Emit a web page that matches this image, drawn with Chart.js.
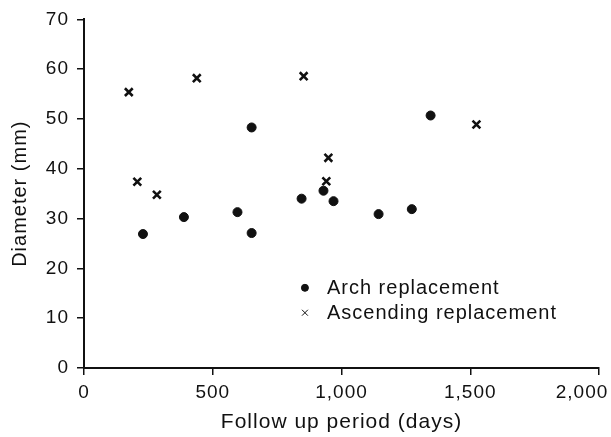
<!DOCTYPE html>
<html>
<head>
<meta charset="utf-8">
<script src="https://cdn.jsdelivr.net/npm/chart.js@4/dist/chart.umd.min.js"></script>
<style>
html,body{margin:0;padding:0;background:#fff;overflow:hidden;}
#wrap{width:611px;height:437px;position:relative;}
</style>
</head>
<body>
<div id="wrap"><canvas id="c" width="611" height="437"></canvas></div>
<script>
const seriesNames = ['Arch replacement', 'Ascending replacement'];
const archDays = [229, 388, 596, 651, 651, 845, 930, 969, 1144, 1273, 1346];
const archDiameter = [26.9, 30.3, 31.3, 27.1, 48.3, 34.0, 35.6, 33.5, 30.9, 31.9, 50.7];
const ascDays = [174, 207, 283, 438, 853, 941, 949, 1524];
const ascDiameter = [55.4, 37.4, 34.8, 58.2, 58.6, 37.5, 42.2, 48.9];
const xTicks = [0, 500, 1000, 1500, 2000];
const yTicks = [0, 10, 20, 30, 40, 50, 60, 70];
const xTitle = 'Follow up period (days)';
const yTitle = 'Diameter (mm)';

const FONT = "'Liberation Sans', Arial, sans-serif";
const toPts = (xs, ys) => xs.map((x, i) => ({x: x, y: ys[i]}));

const spacingPlugin = {
  id: 'spacing',
  beforeUpdate(chart) { chart.ctx.letterSpacing = '1px'; },
  beforeDraw(chart) {
    chart.ctx.letterSpacing = '1px';
    const xs = chart.scales.x;
    const items = xs.getLabelItems();
    if (items && items.length) {
      const last = items[items.length - 1];
      last.options.translation[0] = xs.getPixelForValue(xTicks[xTicks.length - 1]) - 17;
    }
  }
};

const legendPlugin = {
  id: 'insideLegend',
  afterDraw(chart) {
    const ctx = chart.ctx;
    const xs = chart.scales.x, ys = chart.scales.y;
    const items = chart.data.datasets;
    const mx = xs.getPixelForValue(858);
    const rows = [16.1, 11.1];
    ctx.save();
    ctx.letterSpacing = '1px';
    items.forEach((ds, i) => {
      const y = ys.getPixelForValue(rows[i]);
      ctx.fillStyle = '#111';
      ctx.strokeStyle = '#111';
      Chart.helpers.drawPoint(ctx, {
        pointStyle: ds.pointStyle,
        radius: i === 0 ? 3.5 : 4.2,
        borderWidth: i === 0 ? 1 : 2
      }, mx, y);
      ctx.font = '20px ' + FONT;
      ctx.textBaseline = 'middle';
      ctx.textAlign = 'left';
      ctx.fillText(ds.label, mx + 22, y + 1);
    });
    ctx.restore();
  }
};

new Chart(document.getElementById('c'), {
  type: 'scatter',
  data: {
    datasets: [
      {
        label: seriesNames[0],
        data: toPts(archDays, archDiameter),
        pointStyle: 'circle',
        pointRadius: 4.5,
        backgroundColor: '#111',
        borderColor: '#111',
        borderWidth: 1
      },
      {
        label: seriesNames[1],
        data: toPts(ascDays, ascDiameter),
        pointStyle: 'crossRot',
        pointRadius: 5.5,
        backgroundColor: '#111',
        borderColor: '#111',
        borderWidth: 2.6
      }
    ]
  },
  options: {
    responsive: false,
    animation: false,
    devicePixelRatio: 1,
    layout: {padding: {top: 16, right: 12, left: 0, bottom: 0}},
    plugins: {legend: {display: false}, tooltip: {enabled: false}},
    scales: {
      x: {
        type: 'linear',
        min: 0, max: 2000,
        afterBuildTicks: s => { s.ticks = xTicks.map(v => ({value: v})); },
        afterFit: s => { s.height = 69; s.paddingRight = 0; s.paddingLeft = 0; },
        ticks: {
          color: '#111', padding: 6,
          font: {family: FONT, size: 19},
          callback: v => v.toLocaleString('en-US'),
          maxRotation: 0, minRotation: 0
        },
        grid: {display: true, drawOnChartArea: false, drawTicks: true, tickLength: 7, color: '#111', lineWidth: 1.5},
        border: {display: true, color: '#111', width: 2},
        title: {display: true, text: xTitle, color: '#111', font: {family: FONT, size: 21}, padding: {top: 2, bottom: 2}}
      },
      y: {
        type: 'linear',
        min: 0, max: 70,
        afterBuildTicks: s => { s.ticks = yTicks.map(v => ({value: v})); },
        afterFit: s => { s.width = 84; },
        ticks: {
          color: '#111', padding: 8,
          font: {family: FONT, size: 19}
        },
        grid: {display: true, drawOnChartArea: false, drawTicks: true, tickLength: 7, color: '#111', lineWidth: 1.5},
        border: {display: true, color: '#111', width: 2},
        title: {display: true, text: yTitle, color: '#111', font: {family: FONT, size: 20}, padding: {top: 8, bottom: 4}}
      }
    }
  },
  plugins: [spacingPlugin, legendPlugin]
});
</script>
</body>
</html>
